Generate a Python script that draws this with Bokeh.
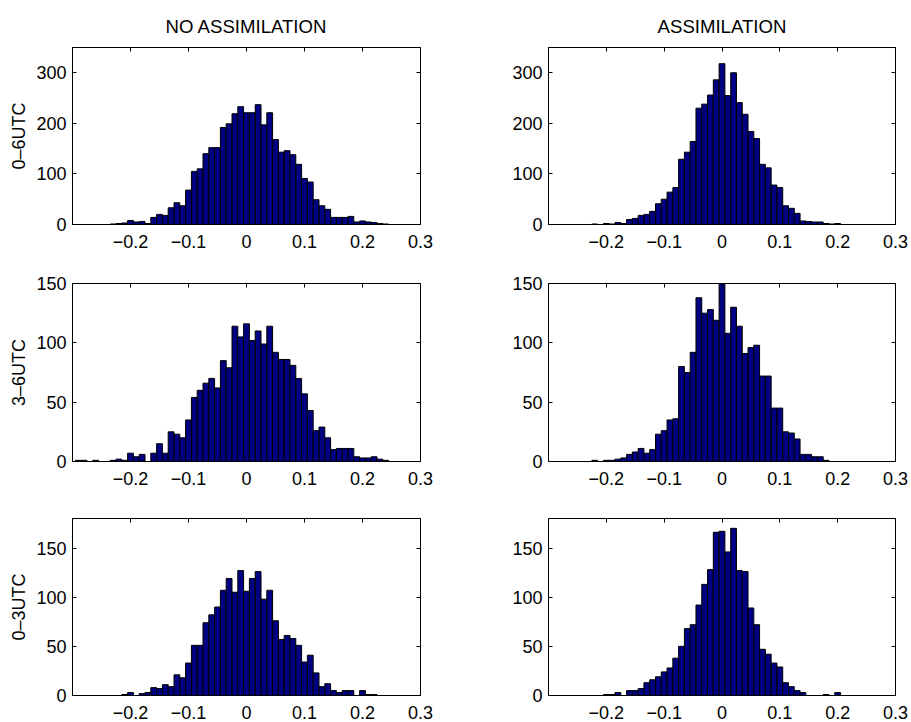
import numpy as np
from bokeh.plotting import figure
from bokeh.layouts import column, row
from bokeh.models import (Range1d, FixedTicker, LinearAxis, CustomJSTickFormatter, Title,
                          CustomLabelingPolicy)
from bokeh.embed import file_html
from bokeh.resources import INLINE

# bin centres (bin width 0.01)
bin_centers = np.round(np.arange(-29, 30) * 0.01, 2)

col_titles = ["NO ASSIMILATION", "ASSIMILATION"]
row_labels = ["0–6UTC", "3–6UTC", "0–3UTC"]
x_ticks = [-0.2, -0.1, 0.0, 0.1, 0.2, 0.3]

noassim_0_6 = [0, 0, 0, 0, 0, 0, 1, 2, 3, 8, 5, 6, 2, 14, 20, 18, 33, 43, 37, 68, 105, 110, 140, 152, 152,
               192, 199, 219, 233, 221, 221, 237, 197, 221, 168, 143, 146, 138, 119, 91, 84, 49, 37, 30,
               14, 14, 14, 16, 5, 7, 5, 4, 2, 1, 0, 0, 0, 0, 0]
assim_0_6 = [0, 0, 0, 0, 0, 0, 0, 1, 0, 2, 1, 4, 2, 10, 12, 18, 20, 26, 41, 50, 64, 73, 129, 143, 164,
             230, 238, 256, 286, 318, 255, 300, 241, 218, 184, 170, 119, 112, 78, 73, 37, 32, 22, 7,
             6, 5, 5, 2, 1, 2, 0, 0, 0, 0, 0, 0, 0, 0, 0]
noassim_3_6 = [1, 1, 0, 1, 0, 0, 1, 2, 1, 7, 4, 6, 0, 7, 15, 7, 25, 23, 20, 35, 54, 60, 66, 70, 62,
               85, 79, 114, 105, 116, 102, 110, 99, 114, 92, 86, 86, 81, 70, 57, 43, 26, 29, 20,
               10, 11, 11, 11, 4, 3, 3, 4, 2, 1, 0, 0, 0, 0, 0]
assim_3_6 = [0, 0, 0, 0, 0, 0, 0, 1, 0, 1, 1, 2, 3, 6, 8, 11, 7, 10, 23, 26, 35, 36, 80, 75, 92,
             138, 125, 128, 119, 150, 108, 130, 114, 91, 96, 98, 72, 72, 45, 45, 25, 24, 19, 6,
             6, 4, 4, 1, 0, 0, 0, 0, 0, 0, 0, 0, 0, 0, 0]
noassim_0_3 = [0, 0, 0, 0, 0, 0, 0, 0, 1, 3, 0, 2, 3, 8, 7, 11, 9, 21, 18, 33, 51, 51, 74, 82, 90,
               107, 119, 105, 127, 106, 119, 126, 98, 107, 76, 57, 61, 58, 51, 34, 41, 23, 9, 12,
               5, 3, 5, 5, 0, 5, 1, 1, 0, 0, 0, 0, 0, 0, 0]
assim_0_3 = [0, 0, 0, 0, 0, 0, 0, 0, 0, 1, 1, 3, 0, 5, 5, 7, 13, 16, 19, 24, 28, 38, 50, 68, 72,
             92, 113, 128, 166, 167, 146, 170, 127, 126, 89, 72, 47, 42, 33, 29, 13, 9, 5, 3,
             0, 0, 0, 1, 0, 3, 0, 0, 0, 0, 0, 0, 0, 0, 0]

series = [[noassim_0_6, assim_0_6], [noassim_3_6, assim_3_6], [noassim_0_3, assim_0_3]]
y_max = [350, 150, 180]
y_ticks = [[0, 100, 200, 300], [0, 50, 100, 150], [0, 50, 100, 150]]

FONT = "Liberation Sans"
FS = "18px"

# layout geometry (pixels)
col_w = [480, 429]
col_borders = [(72, 60), (68, 14)]           # (left, right)
row_h = [256, 244, 221]
row_borders = [(47, 32), (27, 39), (18, 24)]  # (top, bottom)

minus_fmt = CustomJSTickFormatter(code="""
    const v = Math.round(tick * 10) / 10;
    if (v < 0) { return '\\u2212' + (-v).toString(); }
    return v.toString();
""")


def hidden_policy():
    return CustomLabelingPolicy(code="""
        for (const i of indices) { indices.unset(i) }
        return indices
    """)


def style_axis(ax, tick_in=4):
    ax.major_tick_in = tick_in
    ax.major_tick_out = 0
    ax.minor_tick_in = 0
    ax.minor_tick_out = 0
    ax.axis_line_color = "black"
    ax.major_tick_line_color = "black"
    ax.major_label_text_font = FONT
    ax.major_label_text_font_size = FS
    ax.major_label_text_color = "black"
    ax.axis_label_text_font = FONT
    ax.axis_label_text_font_size = FS
    ax.axis_label_text_font_style = "normal"
    ax.axis_label_text_color = "black"


rows = []
for r in range(3):
    figs = []
    for c in range(2):
        top_b, bot_b = row_borders[r]
        left_b, right_b = col_borders[c]
        p = figure(width=col_w[c], height=row_h[r],
                   x_range=Range1d(-0.3, 0.3), y_range=Range1d(0, y_max[r]),
                   output_backend="svg", toolbar_location=None,
                   min_border_left=left_b, min_border_right=right_b,
                   min_border_top=top_b, min_border_bottom=bot_b,
                   x_axis_location="below", y_axis_location="left")
        p.vbar(x=bin_centers, top=series[r][c], width=0.01, bottom=0,
               fill_color="#000080", line_color="black", line_width=1)
        p.xgrid.visible = False
        p.ygrid.visible = False
        p.outline_line_color = "black"
        p.outline_line_width = 1
        p.outline_line_alpha = 1
        p.background_fill_color = "white"
        p.border_fill_color = "white"

        p.xaxis.ticker = FixedTicker(ticks=x_ticks)
        p.xaxis.formatter = minus_fmt
        p.yaxis.ticker = FixedTicker(ticks=y_ticks[r])
        style_axis(p.xaxis[0], tick_in=0)
        style_axis(p.yaxis[0])
        p.xaxis.major_label_standoff = 10
        p.yaxis.major_label_standoff = 6
        if c == 0:
            p.yaxis.axis_label = row_labels[r]
            p.yaxis.axis_label_standoff = 4

        ax_r = LinearAxis(ticker=FixedTicker(ticks=y_ticks[r]))
        style_axis(ax_r)
        ax_r.major_label_text_font_size = "1px"
        ax_r.major_label_standoff = 0
        ax_r.major_label_policy = hidden_policy()
        p.add_layout(ax_r, "right")
        ax_t = LinearAxis(ticker=FixedTicker(ticks=x_ticks))
        style_axis(ax_t)
        ax_t.major_label_text_font_size = "1px"
        ax_t.major_label_standoff = 0
        ax_t.major_label_policy = hidden_policy()
        p.add_layout(ax_t, "above")

        if r == 0:
            p.add_layout(Title(text=col_titles[c], align="center", text_font=FONT,
                               text_font_size="18.6px", text_font_style="normal",
                               text_color="black", standoff=13), "above")
        figs.append(p)
    rows.append(row(*figs, spacing=0))

layout = column(*rows, spacing=0)

open("out.html", "w").write(file_html(layout, INLINE))
